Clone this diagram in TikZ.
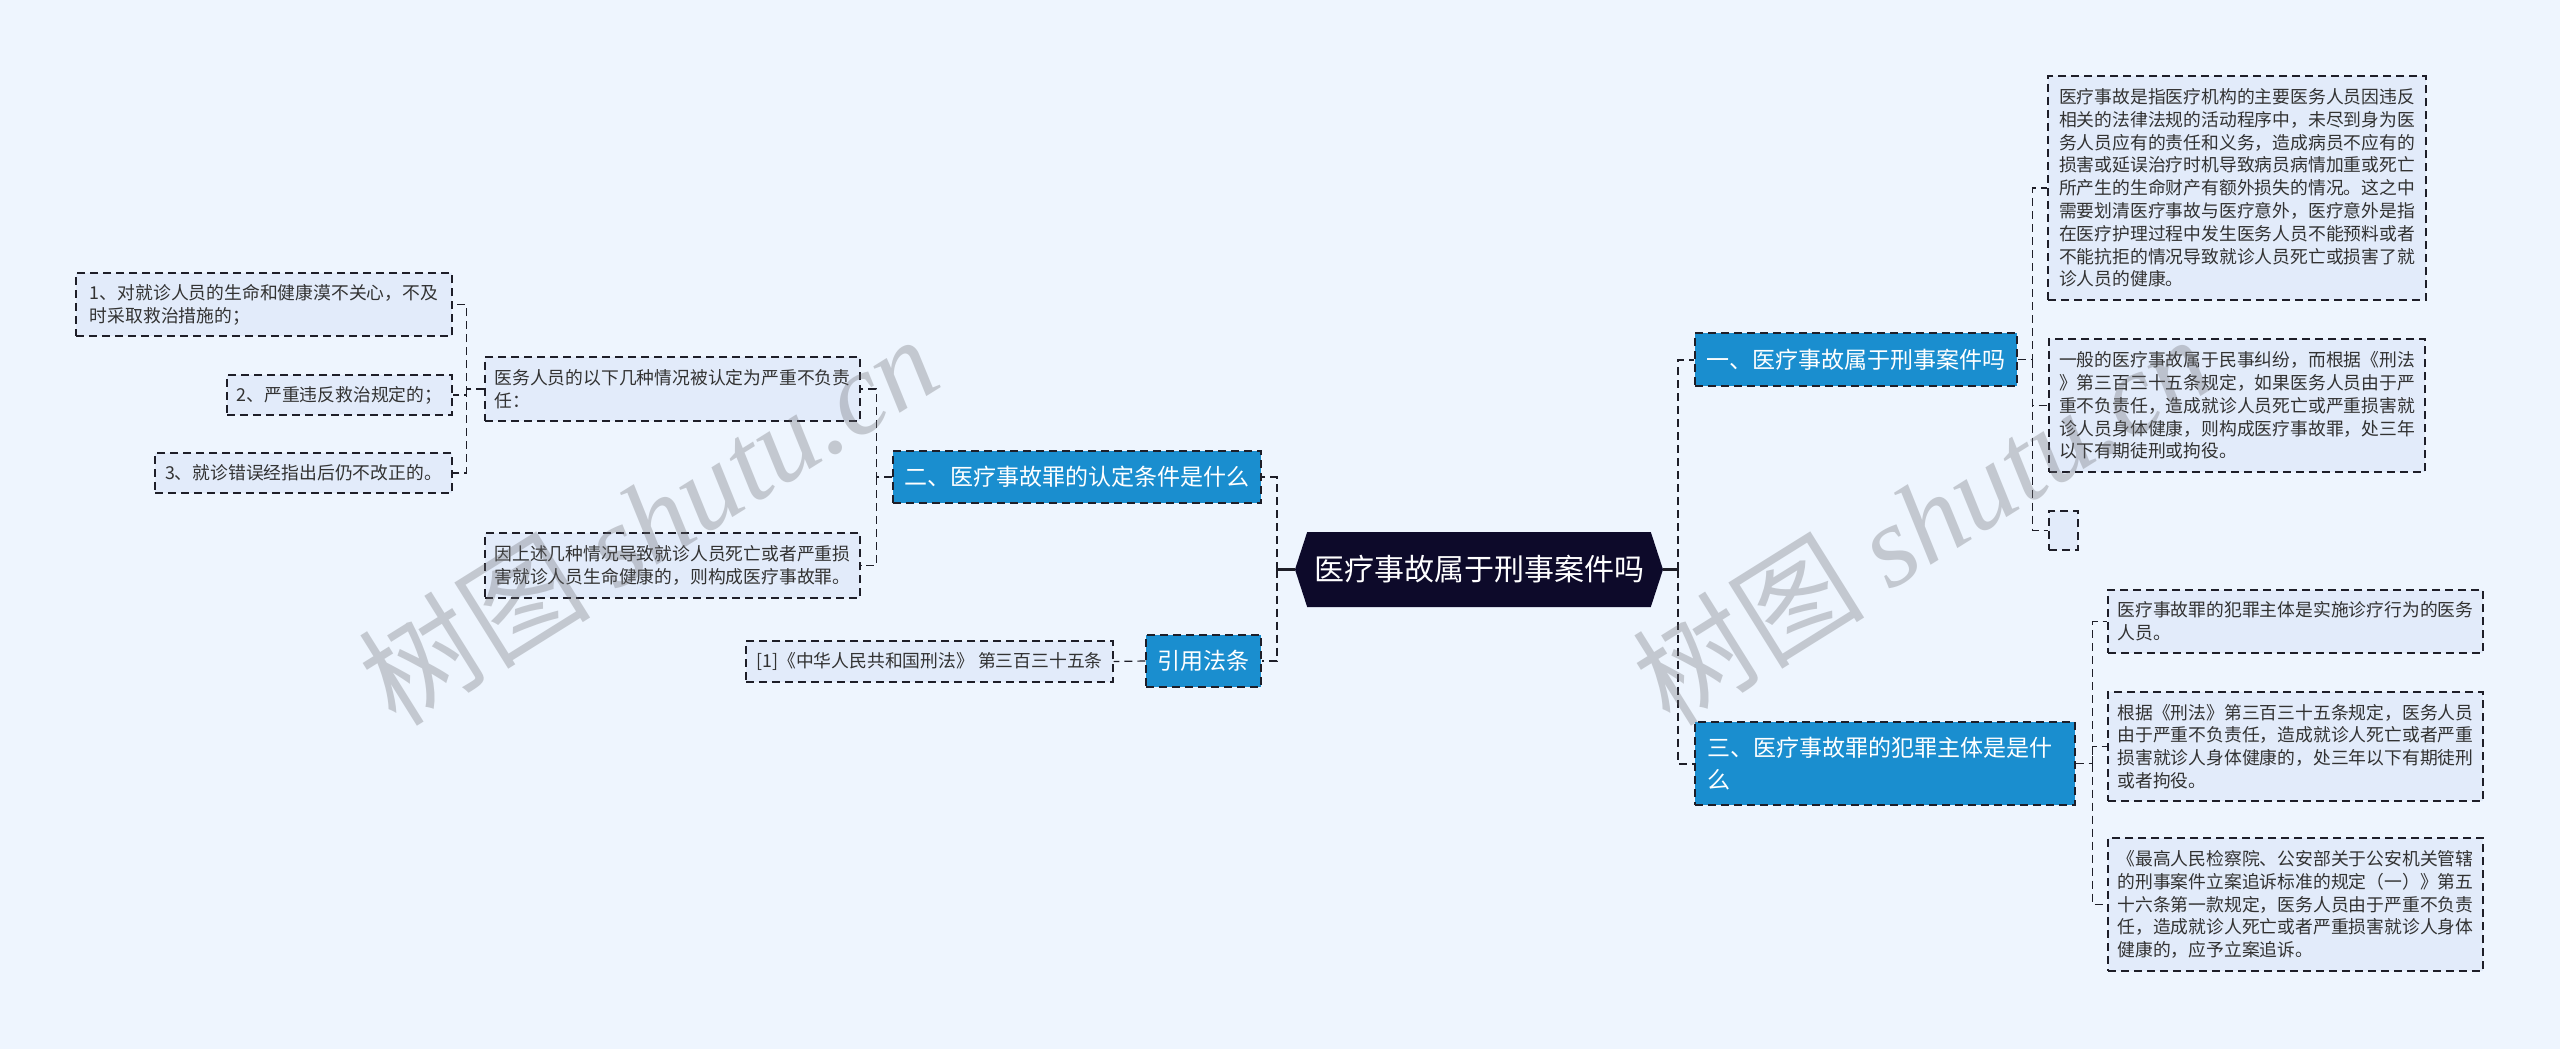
\documentclass[tikz,border=0pt]{standalone}
\usepackage{fontspec}
\setmainfont{Noto Sans CJK SC}
\newfontfamily\marklatin{Liberation Serif}
\usetikzlibrary{shapes.symbols}
\definecolor{pagebg}{RGB}{238,245,254}
\definecolor{hubnavy}{RGB}{13,10,42}
\definecolor{topicblue}{RGB}{26,142,207}
\definecolor{leaffill}{RGB}{226,235,250}
\definecolor{linedark}{RGB}{30,30,40}
\definecolor{leaftext}{RGB}{50,50,50}
\definecolor{markgray}{RGB}{110,110,115}
\tikzset{
  hubnode/.style={signal, signal to=east and west, signal pointer angle=144,
    fill=hubnavy, text=white, font=\fontsize{15}{18}\selectfont, inner sep=2pt},
  topicbox/.style={draw=linedark, dash pattern=on 4pt off 2.5pt, line width=0.6pt,
    fill=topicblue, text=white, font=\fontsize{11.5}{16}\selectfont, inner sep=4pt},
  leafbox/.style={draw=linedark, dash pattern=on 4pt off 2.5pt, line width=0.6pt,
    fill=leaffill, text=leaftext, font=\fontsize{8.9}{11.4}\selectfont, align=left, inner sep=4pt},
  hubline/.style={line width=1.6pt, draw=linedark},
  trunkline/.style={dash pattern=on 4pt off 2.5pt, line width=1pt, draw=linedark},
  twigline/.style={dash pattern=on 4pt off 2.5pt, line width=0.6pt, draw=linedark},
  stamp/.style={text=markgray, opacity=0.33, rotate=32, font=\fontsize{58}{60}\selectfont}
}
\begin{document}
\begin{tikzpicture}[x=0.5pt, y=-0.5pt]
\fill[pagebg] (0,0) rectangle (2560,1049);
\useasboundingbox (0,0) rectangle (2560,1049);

% centre
\node[hubnode, minimum width=184pt, minimum height=37.5pt] (hub) at (1479,569.5) {医疗事故属于刑事案件吗};

% topics
\node[topicbox, minimum width=161pt, minimum height=26.5pt] (crim) at (1856,359.5) {一、医疗事故属于刑事案件吗};
\node[topicbox, minimum width=190pt, minimum height=41.5pt, text width=178pt, align=left, inner xsep=6pt] (subj) at (1885,763.5) {三、医疗事故罪的犯罪主体是是什\\么};
\node[topicbox, minimum width=184pt, minimum height=26pt] (cond) at (1077,477) {二、医疗事故罪的认定条件是什么};
\node[topicbox, minimum width=57.5pt, minimum height=26pt] (cite) at (1203.5,661) {引用法条};

% right leaves
\node[leafbox, minimum width=189pt, minimum height=112pt] (crima) at (2237,188) {医疗事故是指医疗机构的主要医务人员因违反\\相关的法律法规的活动程序中，未尽到身为医\\务人员应有的责任和义务，造成病员不应有的\\损害或延误治疗时机导致病员病情加重或死亡\\所产生的生命财产有额外损失的情况。这之中\\需要划清医疗事故与医疗意外，医疗意外是指\\在医疗护理过程中发生医务人员不能预料或者\\不能抗拒的情况导致就诊人员死亡或损害了就\\诊人员的健康。};
\node[leafbox, minimum width=188pt, minimum height=66.5pt] (crimb) at (2237,405.5) {一般的医疗事故属于民事纠纷，而根据《刑法\\》第三百三十五条规定，如果医务人员由于严\\重不负责任，造成就诊人员死亡或严重损害就\\诊人员身体健康，则构成医疗事故罪，处三年\\以下有期徒刑或拘役。};
\node[leafbox, minimum width=14.5pt, minimum height=19.5pt, inner sep=0pt] (crimc) at (2063.5,530.5) {};
\node[leafbox, minimum width=187.5pt, minimum height=31.5pt] (subja) at (2295.5,621.5) {医疗事故罪的犯罪主体是实施诊疗行为的医务\\人员。};
\node[leafbox, minimum width=187.5pt, minimum height=54.5pt] (subjb) at (2295.5,746.5) {根据《刑法》第三百三十五条规定，医务人员\\由于严重不负责任，造成就诊人死亡或者严重\\损害就诊人身体健康的，处三年以下有期徒刑\\或者拘役。};
\node[leafbox, minimum width=187.5pt, minimum height=66.5pt] (subjc) at (2295.5,904.5) {《最高人民检察院、公安部关于公安机关管辖\\的刑事案件立案追诉标准的规定（一）》第五\\十六条第一款规定，医务人员由于严重不负责\\任，造成就诊人死亡或者严重损害就诊人身体\\健康的，应予立案追诉。};

% left leaves
\node[leafbox, minimum width=187.5pt, minimum height=32pt] (conda) at (672.5,389) {医务人员的以下几种情况被认定为严重不负责\\任：};
\node[leafbox, minimum width=187.5pt, minimum height=32.5pt] (condb) at (672.5,565.5) {因上述几种情况导致就诊人员死亡或者严重损\\害就诊人员生命健康的，则构成医疗事故罪。};
\node[leafbox, minimum width=188pt, minimum height=31.5pt] (item1) at (264,304.5) {1、对就诊人员的生命和健康漠不关心，不及\\时采取救治措施的；};
\node[leafbox, minimum width=112.5pt, minimum height=20pt] (item2) at (339.5,395) {2、严重违反救治规定的；};
\node[leafbox, minimum width=148.5pt, minimum height=20pt] (item3) at (303.5,473) {3、就诊错误经指出后仍不改正的。};
\node[leafbox, minimum width=183.5pt, minimum height=20.5pt] (lawref) at (929.5,661.5) {[1]《中华人民共和国刑法》 第三百三十五条};

% connectors
\draw[hubline] (hub.west) -- ++(-18,0) coordinate (lhub);
\draw[hubline] (hub.east) -- ++(15,0) coordinate (rhub);
\draw[trunkline] (rhub) |- (crim.west);
\draw[trunkline] (rhub) |- (subj.west);
\draw[trunkline] (lhub) |- (cond.east);
\draw[trunkline] (lhub) |- (cite.east);

\draw[twigline] (crim.east) -- ++(15,0) coordinate (crimfork) |- (crima.west);
\draw[twigline] (crimfork) |- (crimb.west);
\draw[twigline] (crimfork) |- (crimc.west);
\draw[twigline] (subj.east) -- ++(17,0) coordinate (subjfork) |- (subja.west);
\draw[twigline] (subjfork) |- (subjb.west);
\draw[twigline] (subjfork) |- (subjc.west);
\draw[twigline] (cond.west) -- ++(-16,0) coordinate (condfork) |- (conda.east);
\draw[twigline] (condfork) |- (condb.east);
\draw[twigline] (conda.west) -- ++(-18,0) coordinate (itemfork) |- (item1.east);
\draw[twigline] (itemfork) |- (item2.east);
\draw[twigline] (itemfork) |- (item3.east);
\draw[twigline] (cite.west) -- (lawref.east);

% watermark
\node[stamp] (markl) at (648,519) {树图 {\marklatin\itshape shutu.cn}};
\node[stamp] (markr) at (1922,519) {树图 {\marklatin\itshape shutu.cn}};
\end{tikzpicture}
\end{document}
